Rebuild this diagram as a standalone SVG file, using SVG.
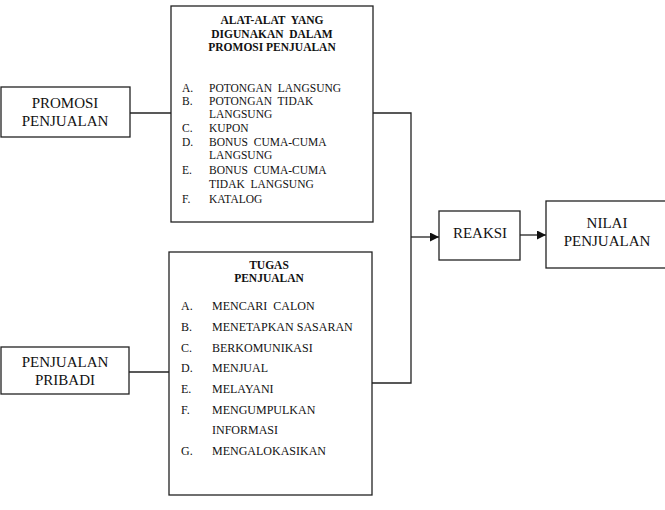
<svg xmlns="http://www.w3.org/2000/svg" width="665" height="510" viewBox="0 0 665 510">
<style>
.box{fill:#fff;stroke:#222;stroke-width:1.3}
.ln{fill:none;stroke:#222;stroke-width:1.3}
text{font-family:"Liberation Serif","Times New Roman",serif;fill:#111;white-space:pre}
.t{font-size:12px}
.s{font-size:11.5px}
.b{font-size:11.5px;font-weight:bold;text-anchor:middle}
.m{font-size:15px;text-anchor:middle}
</style>
<defs>
<marker id="ar" viewBox="0 0 10 10" refX="10" refY="5" markerWidth="9" markerHeight="9" markerUnits="userSpaceOnUse" orient="auto">
<path d="M0,0 L10,5 L0,10 z" fill="#111"/>
</marker>
</defs>
<rect width="665" height="510" fill="#fff"/>
<g id="connectors">
<line class="ln" x1="130" y1="113" x2="171" y2="113"/>
<line class="ln" x1="129" y1="372" x2="169" y2="372"/>
<polyline class="ln" points="373,113 411,113 411,383 372,383"/>
<line class="ln" x1="411" y1="237" x2="439" y2="237" marker-end="url(#ar)"/>
<line class="ln" x1="520" y1="235" x2="546" y2="235" marker-end="url(#ar)"/>
</g>
<g id="promosi">
<rect class="box" x="1" y="87" width="129" height="50"/>
<text class="m" x="65" y="108">PROMOSI</text>
<text class="m" x="65" y="126">PENJUALAN</text>
</g>
<g id="alat">
<rect class="box" x="171" y="6" width="202" height="216"/>
<text class="b" x="272" y="24">ALAT-ALAT  YANG</text>
<text class="b" x="272" y="38">DIGUNAKAN  DALAM</text>
<text class="b" x="272" y="51">PROMOSI PENJUALAN</text>
<g class="s">
<text x="182" y="92">A.</text><text x="209" y="92">POTONGAN  LANGSUNG</text>
<text x="182" y="105">B.</text><text x="209" y="105">POTONGAN  TIDAK</text>
<text x="209" y="118">LANGSUNG</text>
<text x="182" y="132">C.</text><text x="209" y="132">KUPON</text>
<text x="182" y="146">D.</text><text x="209" y="146">BONUS  CUMA-CUMA</text>
<text x="209" y="159">LANGSUNG</text>
<text x="182" y="174">E.</text><text x="209" y="174">BONUS  CUMA-CUMA</text>
<text x="209" y="188">TIDAK  LANGSUNG</text>
<text x="182" y="203">F.</text><text x="209" y="203">KATALOG</text>
</g>
</g>
<g id="pribadi">
<rect class="box" x="1" y="347" width="128" height="47"/>
<text class="m" x="65" y="367">PENJUALAN</text>
<text class="m" x="65" y="385">PRIBADI</text>
</g>
<g id="tugas">
<rect class="box" x="169" y="252" width="203" height="243"/>
<text class="b" x="269" y="269">TUGAS</text>
<text class="b" x="269" y="282">PENJUALAN</text>
<g class="t">
<text x="181" y="310">A.</text><text x="212" y="310">MENCARI  CALON</text>
<text x="181" y="331">B.</text><text x="212" y="331">MENETAPKAN SASARAN</text>
<text x="181" y="352">C.</text><text x="212" y="352">BERKOMUNIKASI</text>
<text x="181" y="372">D.</text><text x="212" y="372">MENJUAL</text>
<text x="181" y="393">E.</text><text x="212" y="393">MELAYANI</text>
<text x="181" y="414">F.</text><text x="212" y="414">MENGUMPULKAN</text>
<text x="212" y="434">INFORMASI</text>
<text x="181" y="455">G.</text><text x="212" y="455">MENGALOKASIKAN</text>
</g>
</g>
<g id="reaksi">
<rect class="box" x="439" y="211" width="81" height="49"/>
<text class="m" x="480" y="238">REAKSI</text>
</g>
<g id="nilai">
<rect class="box" x="546" y="201" width="122" height="67"/>
<text class="m" x="607" y="228">NILAI</text>
<text class="m" x="607" y="246">PENJUALAN</text>
</g>
</svg>
